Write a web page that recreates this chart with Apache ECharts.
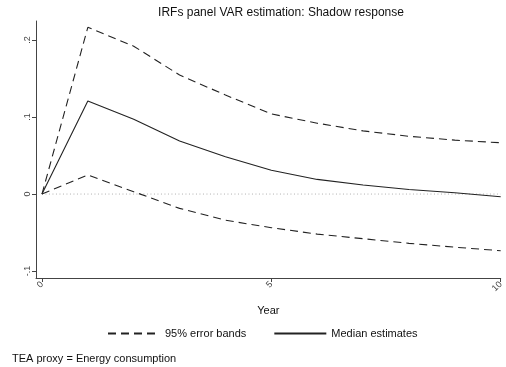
<!DOCTYPE html>
<html>
<head>
<meta charset="utf-8">
<script src="https://cdn.jsdelivr.net/npm/echarts@6/dist/echarts.min.js"></script>
<style>html,body{margin:0;padding:0;background:#fff}#c{width:506px;height:367px}</style>
</head>
<body>
<div id="c"></div>
<script>
var years = [0,1,2,3,4,5,6,7,8,9,10];
var upperBand = [0, 0.2165, 0.192, 0.1545, 0.1286, 0.104, 0.092, 0.082, 0.075, 0.070, 0.0666];
var median    = [0, 0.1208, 0.097, 0.069, 0.0485, 0.031, 0.019, 0.0117, 0.006, 0.0017, -0.0035];
var lowerBand = [0, 0.0247, 0.003, -0.0186, -0.034, -0.0437, -0.052, -0.058, -0.064, -0.069, -0.0736];
var zeroRef   = [0, 0];
var zeroRefX  = [0, 10];
var yTicks = [-0.1, 0, 0.1, 0.2];
var yTickLabels = ['-.1', '0', '.1', '.2'];
var xTicks = [0, 5, 10];

function pairs(xs, v){ return xs.map(function(x,i){ return [x, v[i]]; }); }

var chart = echarts.init(document.getElementById('c'), null, {renderer:'canvas'});
var font = 'Liberation Sans, Arial, Helvetica, sans-serif';
var lineCol = '#222';
chart.setOption({
  animation: false,
  backgroundColor: '#fff',
  title: {
    text: 'IRFs panel VAR estimation: Shadow response',
    left: 276, top: 2, textAlign: 'center',
    textStyle: {fontFamily: font, fontSize: 12, fontWeight: 'normal', color: '#111'}
  },
  grid: {left: 36, right: 0, top: 21, bottom: 89},
  legend: {
    left: 102, top: 323,
    itemWidth: 52, itemHeight: 10, itemGap: 27,
    itemStyle: {color: 'rgba(0,0,0,0)', borderWidth: 0, opacity: 0},
    textStyle: {fontFamily: font, fontSize: 11, color: '#111'},
    data: ['95% error bands', 'Median estimates']
  },
  graphic: [{
    type: 'text', left: 12, top: 353,
    style: {text: 'TEA proxy = Energy consumption', font: '11px ' + font, fill: '#111'}
  }],
  xAxis: {
    type: 'value', min: -0.13, max: 10,
    name: 'Year', nameLocation: 'middle', nameGap: 27,
    nameTextStyle: {fontFamily: font, fontSize: 11, color: '#111'},
    axisLine: {show: true, onZero: false, lineStyle: {color: '#444', width: 1}},
    axisTick: {show: true, length: 4, lineStyle: {color: '#444'}, customValues: xTicks},
    axisLabel: {fontFamily: font, fontSize: 9, color: '#444', rotate: 45, margin: 5, customValues: xTicks},
    splitLine: {show: false}
  },
  yAxis: {
    type: 'value', min: -0.109, max: 0.2247,
    axisLine: {show: true, onZero: false, lineStyle: {color: '#444', width: 1}},
    axisTick: {show: true, length: 4, lineStyle: {color: '#444'}, customValues: yTicks},
    axisLabel: {
      fontFamily: font, fontSize: 9, color: '#444', rotate: 90, margin: 4,
      customValues: yTicks,
      formatter: function(v){
        for (var i = 0; i < yTicks.length; i++) if (Math.abs(yTicks[i]-v) < 1e-9) return yTickLabels[i];
        return '';
      }
    },
    splitLine: {show: false}
  },
  series: [
    {
      name: 'zero', type: 'line', data: pairs(zeroRefX, zeroRef), z: 1, silent: true,
      symbol: 'none', lineStyle: {color: '#b0b0b0', width: 1, type: [1, 2.5]}
    },
    {
      name: '95% error bands', type: 'line', data: pairs(years, upperBand), z: 3,
      symbol: 'none', lineStyle: {color: lineCol, width: 1.1, type: [8, 5]}, itemStyle: {color: lineCol}
    },
    {
      name: 'Median estimates', type: 'line', data: pairs(years, median), z: 3,
      symbol: 'none', lineStyle: {color: lineCol, width: 1.1, type: 'solid'}, itemStyle: {color: lineCol}
    },
    {
      name: '95% error bands', type: 'line', data: pairs(years, lowerBand), z: 3,
      symbol: 'none', lineStyle: {color: lineCol, width: 1.1, type: [8, 5]}, itemStyle: {color: lineCol}
    }
  ]
});
</script>
</body>
</html>
